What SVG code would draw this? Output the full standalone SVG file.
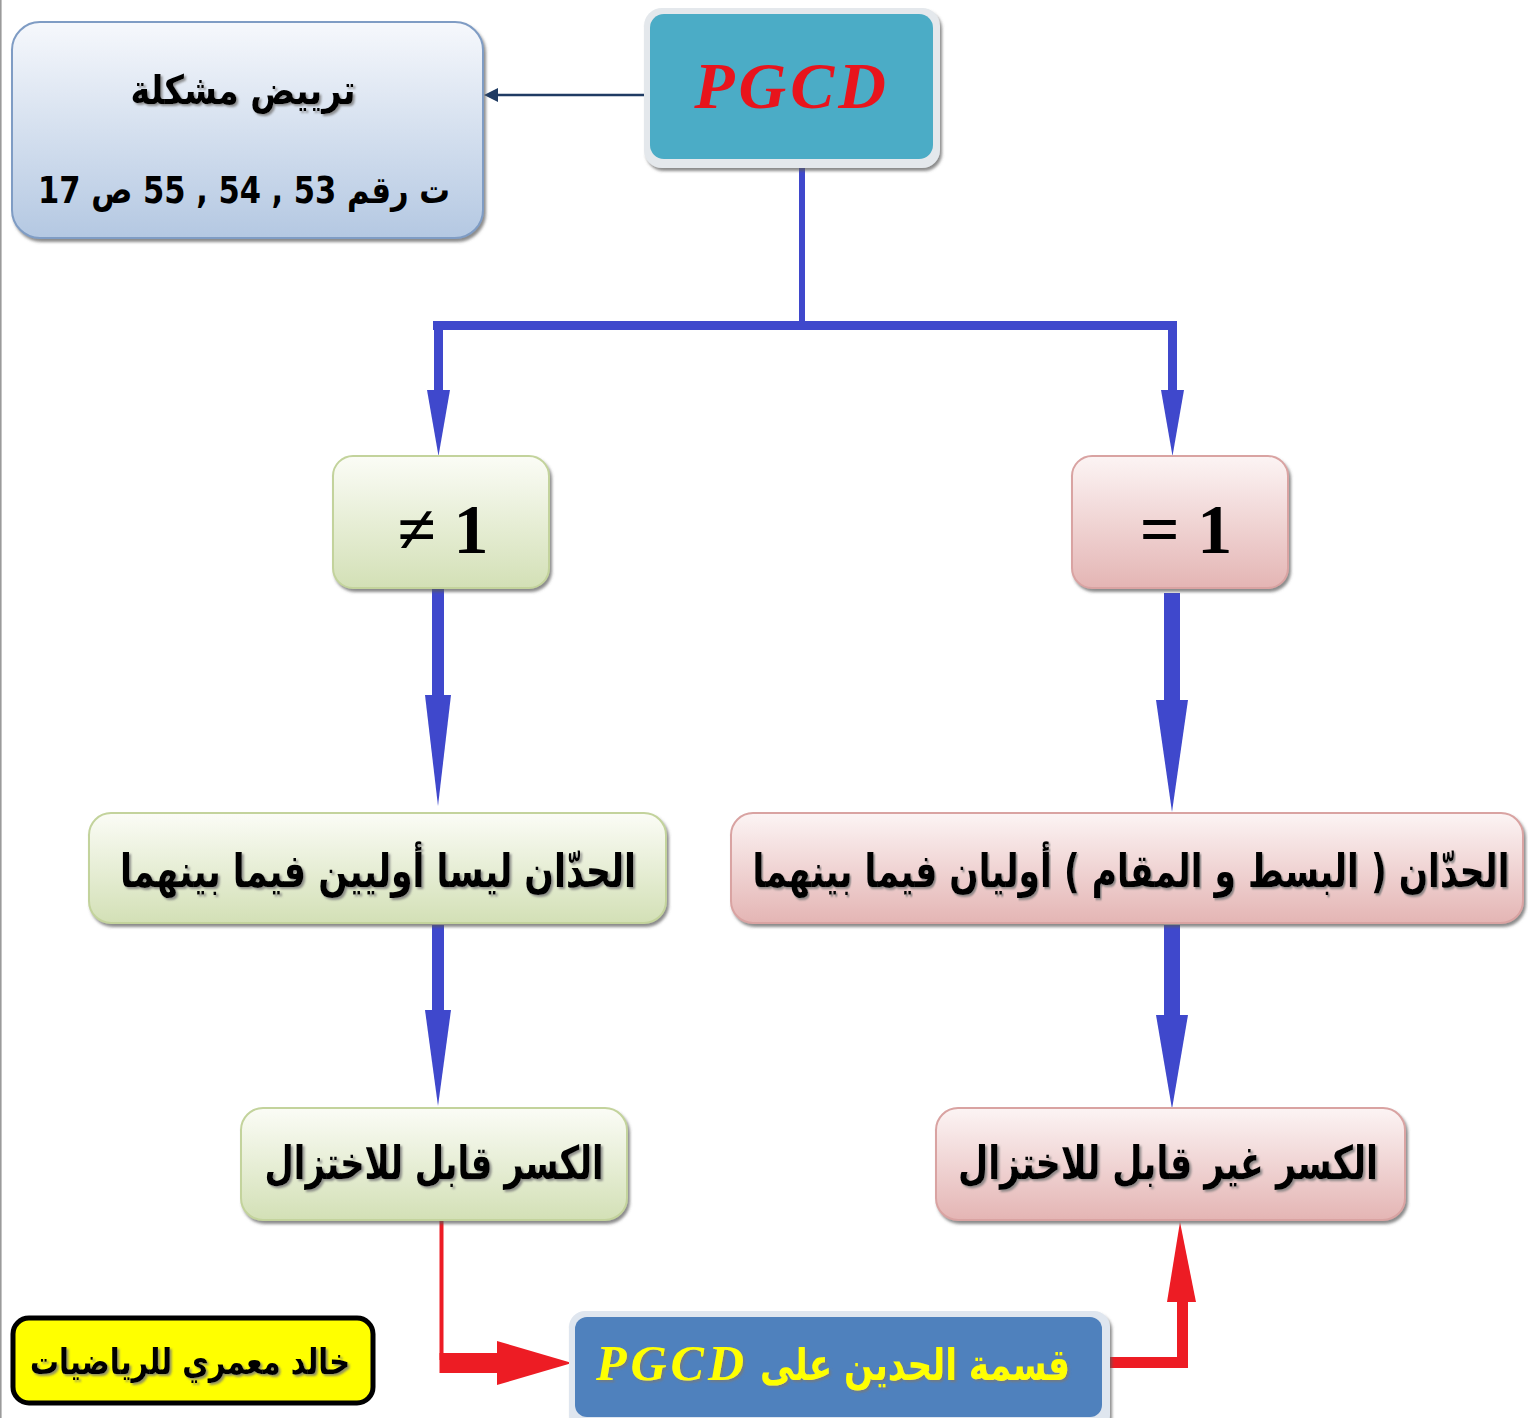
<svg xmlns="http://www.w3.org/2000/svg" width="1528" height="1418" viewBox="0 0 1528 1418">
<defs>
<linearGradient id="gBlue" x1="0" y1="0" x2="0" y2="1"><stop offset="0" stop-color="#f6f8fc"/><stop offset="1" stop-color="#b4c8e2"/></linearGradient>
<linearGradient id="gGreen" x1="0" y1="0" x2="0" y2="1"><stop offset="0" stop-color="#fbfcf6"/><stop offset="1" stop-color="#d3e0b6"/></linearGradient>
<linearGradient id="gPink" x1="0" y1="0" x2="0" y2="1"><stop offset="0" stop-color="#fcf4f4"/><stop offset="1" stop-color="#e4b5b4"/></linearGradient>
<filter id="shadow" x="-5%" y="-5%" width="112%" height="120%"><feDropShadow dx="2" dy="3" stdDeviation="1.5" flood-color="#5a5a5a" flood-opacity="0.7"/></filter>
<filter id="tshadow" x="-5%" y="-10%" width="110%" height="130%"><feDropShadow dx="2" dy="2" stdDeviation="0.8" flood-color="#777" flood-opacity="0.8"/></filter>
</defs>
<style>
.ar{font-family:"DejaVu Sans",sans-serif;font-weight:bold;fill:#000;text-anchor:middle}
.blue{fill:#3f48cc}
.red{fill:#ed1c24}
.math{font-family:"Liberation Serif",serif;font-weight:bold;fill:#000;text-anchor:middle}
</style>
<rect width="1528" height="1418" fill="#ffffff"/>
<line x1="0.8" y1="0" x2="0.8" y2="1418" stroke="#9a9a9a" stroke-width="1.6"/>

<g id="connectors">
  <line x1="645" y1="95" x2="494" y2="95" stroke="#1f3b63" stroke-width="2.5"/>
  <polygon points="484,95 498,88 498,102" fill="#1f3b63"/>
  <rect class="blue" x="799" y="162" width="6" height="164"/>
  <rect class="blue" x="433" y="321" width="744" height="9"/>
  <rect class="blue" x="434" y="321" width="9" height="72"/>
  <polygon class="blue" points="427,390 450,390 438.5,456"/>
  <rect class="blue" x="1168" y="321" width="9" height="72"/>
  <polygon class="blue" points="1161,390 1184,390 1172.5,456"/>
  <rect class="blue" x="432" y="588" width="12" height="110"/>
  <polygon class="blue" points="425,695 451,695 438,806"/>
  <rect class="blue" x="1164" y="593" width="16" height="110"/>
  <polygon class="blue" points="1156,700 1188,700 1172,812"/>
  <rect class="blue" x="432" y="925" width="12" height="88"/>
  <polygon class="blue" points="425,1010 451,1010 438,1106"/>
  <rect class="blue" x="1164" y="925" width="16" height="93"/>
  <polygon class="blue" points="1156,1015 1188,1015 1172,1109"/>
  <rect class="red" x="439.5" y="1220" width="4" height="140"/>
  <rect class="red" x="439.5" y="1353" width="62" height="20"/>
  <polygon class="red" points="497,1341 572,1363 497,1385"/>
  <rect class="red" x="1106" y="1357" width="82" height="11"/>
  <rect class="red" x="1177" y="1298" width="11" height="70"/>
  <polygon class="red" points="1167,1302 1196,1302 1180,1222"/>
</g>

<g id="node-problem">
  <rect x="12" y="22" width="471" height="216" rx="28" fill="url(#gBlue)" stroke="#7f9cc4" stroke-width="2" filter="url(#shadow)"/>
  <text class="ar" x="243" y="104" font-size="40" direction="rtl" textLength="225" lengthAdjust="spacingAndGlyphs" filter="url(#tshadow)">ترييض مشكلة</text>
  <text class="ar" x="244" y="203" font-size="37" direction="rtl" textLength="412" lengthAdjust="spacingAndGlyphs">ت رقم 53 , 54 , 55 ص 17</text>
</g>

<g id="node-pgcd">
  <rect x="644" y="8" width="296" height="160" rx="18" fill="#e4e8ec" filter="url(#shadow)"/>
  <rect x="650" y="14" width="283" height="145" rx="14" fill="#4bacc6"/>
  <text x="792" y="108" font-family="Liberation Serif,serif" font-weight="bold" font-style="italic" font-size="66" fill="#e8141c" text-anchor="middle" letter-spacing="4">PGCD</text>
</g>

<g id="node-neq1">
  <rect x="333" y="456" width="216" height="132" rx="20" fill="url(#gGreen)" stroke="#c3d39c" stroke-width="2" filter="url(#shadow)"/>
  <text class="math" x="443" y="553" font-size="70">≠ 1</text>
</g>

<g id="node-eq1">
  <rect x="1072" y="456" width="216" height="132" rx="20" fill="url(#gPink)" stroke="#d9a3a2" stroke-width="2" filter="url(#shadow)"/>
  <text class="math" x="1186" y="553" font-size="70">= 1</text>
</g>

<g id="node-notcoprime">
  <rect x="89" y="813" width="577" height="110" rx="22" fill="url(#gGreen)" stroke="#c3d39c" stroke-width="2" filter="url(#shadow)"/>
  <text class="ar" x="378" y="887" font-size="46" direction="rtl" textLength="516" lengthAdjust="spacingAndGlyphs" filter="url(#tshadow)">الحدّان ليسا أوليين فيما بينهما</text>
</g>

<g id="node-coprime">
  <rect x="731" y="813" width="792" height="110" rx="22" fill="url(#gPink)" stroke="#d9a3a2" stroke-width="2" filter="url(#shadow)"/>
  <text class="ar" x="0" y="0" font-size="46" direction="rtl" transform="translate(1131 887) scale(0.75 1)" filter="url(#tshadow)">الحدّان ( البسط و المقام ) أوليان فيما بينهما</text>
</g>

<g id="node-reducible">
  <rect x="241" y="1108" width="386" height="112" rx="22" fill="url(#gGreen)" stroke="#c3d39c" stroke-width="2" filter="url(#shadow)"/>
  <text class="ar" x="434" y="1179" font-size="46" direction="rtl" textLength="339" lengthAdjust="spacingAndGlyphs" filter="url(#tshadow)">الكسر قابل للاختزال</text>
</g>

<g id="node-irreducible">
  <rect x="936" y="1108" width="469" height="112" rx="22" fill="url(#gPink)" stroke="#d9a3a2" stroke-width="2" filter="url(#shadow)"/>
  <text class="ar" x="1168" y="1179" font-size="46" direction="rtl" textLength="420" lengthAdjust="spacingAndGlyphs" filter="url(#tshadow)">الكسر غير قابل للاختزال</text>
</g>

<g id="node-divide">
  <rect x="569" y="1311" width="541" height="120" rx="16" fill="#dfe6ef" filter="url(#shadow)"/>
  <rect x="575" y="1317" width="527" height="100" rx="12" fill="#4f81bd"/>
  <text x="915" y="1380" font-family="DejaVu Sans,sans-serif" font-weight="bold" font-size="44" fill="#ffff00" text-anchor="middle" direction="rtl" textLength="310" lengthAdjust="spacingAndGlyphs" filter="url(#tshadow)">قسمة الحدين على</text>
  <text x="672" y="1380" font-family="Liberation Serif,serif" font-weight="bold" font-style="italic" font-size="50" fill="#ffff00" text-anchor="middle" letter-spacing="4" filter="url(#tshadow)">PGCD</text>
</g>

<g id="node-author">
  <rect x="13" y="1318" width="360" height="85" rx="16" fill="#ffff00" stroke="#000" stroke-width="5"/>
  <text class="ar" x="190" y="1374" font-size="36" direction="rtl" textLength="320" lengthAdjust="spacingAndGlyphs" filter="url(#tshadow)">خالد معمري للرياضيات</text>
</g>
</svg>
